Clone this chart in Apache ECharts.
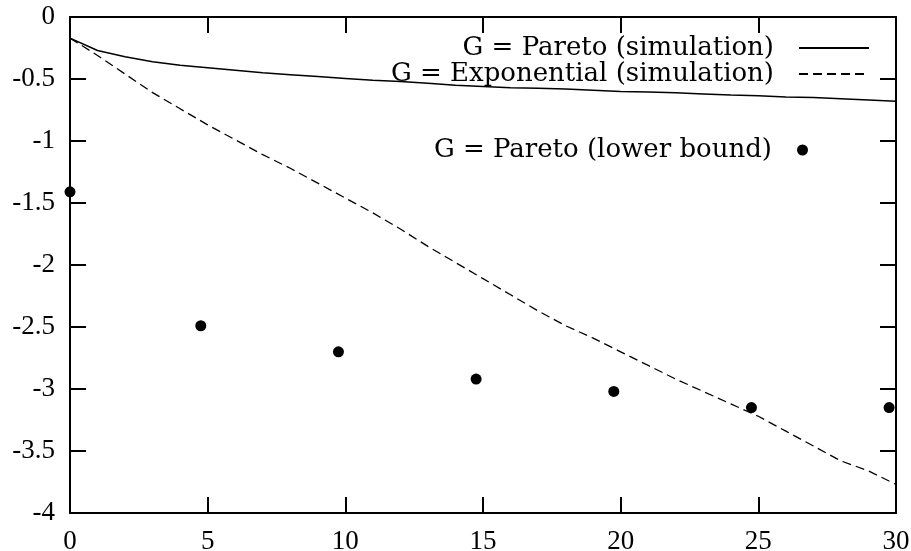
<!DOCTYPE html>
<html>
<head>
<meta charset="utf-8">
<script src="https://cdn.jsdelivr.net/npm/echarts@6/dist/echarts.min.js"></script>
<style>html,body{margin:0;padding:0;background:#fff}#c{width:911px;height:551px}</style>
</head>
<body>
<div id="c"></div>
<script>
// Simulation x positions
var simX = [0,1,2,3,4,5,6,7,8,9,10,11,12,13,14,15,16,17,18,19,20,21,22,23,24,25,26,27,28,29,30];
var paretoSim = [-0.17,-0.27,-0.32,-0.36,-0.39,-0.41,-0.43,-0.45,-0.465,-0.48,-0.495,-0.51,-0.52,-0.535,-0.55,-0.56,-0.57,-0.575,-0.58,-0.59,-0.60,-0.605,-0.61,-0.62,-0.63,-0.635,-0.645,-0.65,-0.66,-0.67,-0.68];
var expSim = [-0.17,-0.31,-0.46,-0.61,-0.74,-0.87,-0.99,-1.11,-1.22,-1.34,-1.46,-1.58,-1.71,-1.85,-1.98,-2.11,-2.24,-2.37,-2.49,-2.59,-2.70,-2.81,-2.92,-3.02,-3.12,-3.22,-3.34,-3.46,-3.58,-3.66,-3.77];
// Lower bound points
var boundX = [0,4.75,9.75,14.75,19.75,24.75,29.75];
var paretoBound = [-1.41,-2.49,-2.70,-2.92,-3.02,-3.15,-3.15];
var names = ['G = Pareto (simulation)','G = Exponential (simulation)','G = Pareto (lower bound)'];

function pairs(xs, ys){ return xs.map(function(x,i){ return [x, ys[i]]; }); }

var TICKFONT = 'Liberation Serif';
var LEGFONT = 'DejaVu Serif';
var chart = echarts.init(document.getElementById('c'), null, {renderer:'canvas'});
var axisLine = {show:true, onZero:false, lineStyle:{color:'#000', width:2}};
var tick = {show:true, inside:true, length:16, lineStyle:{color:'#000', width:2}};
chart.setOption({
  animation:false,
  backgroundColor:'#fff',
  grid:{left:70, right:15, top:17, bottom:38, containLabel:false, outerBoundsMode:'none'},
  xAxis:[
    {type:'value', min:0, max:30, interval:5, position:'bottom',
     axisLine:axisLine, axisTick:tick, splitLine:{show:false},
     axisLabel:{color:'#000', fontFamily:TICKFONT, fontSize:27, margin:15}},
    {type:'value', min:0, max:30, interval:5, position:'top',
     axisLine:axisLine, axisTick:tick, splitLine:{show:false}, axisLabel:{show:false}}
  ],
  yAxis:[
    {type:'value', min:-4, max:0, interval:0.5, position:'left',
     axisLine:axisLine, axisTick:tick, splitLine:{show:false},
     axisLabel:{color:'#000', fontFamily:TICKFONT, fontSize:27, margin:15, padding:[8,0,0,0]}},
    {type:'value', min:-4, max:0, interval:0.5, position:'right',
     axisLine:axisLine, axisTick:tick, splitLine:{show:false}, axisLabel:{show:false}}
  ],
  legend:[
    {data:[names[0], names[1]], orient:'vertical', right:41, top:35, align:'right',
     padding:0, itemGap:0, itemWidth:70, itemHeight:14,
     itemStyle:{color:'rgba(0,0,0,0)', borderWidth:0, opacity:0},
     textStyle:{color:'#000', fontFamily:LEGFONT, fontSize:26, lineHeight:25, padding:[0,20,0,0]}},
    {data:[names[2]], orient:'vertical', right:103, top:137, align:'right',
     padding:0, itemGap:0, itemWidth:11, itemHeight:11,
     textStyle:{color:'#000', fontFamily:LEGFONT, fontSize:26, lineHeight:25, padding:[0,20,0,0]}}
  ],
  series:[
    {name:names[0], type:'line', data:pairs(simX, paretoSim), symbol:'none',
     lineStyle:{color:'#000', width:1.5, type:'solid'}, itemStyle:{color:'#000'}},
    {name:names[1], type:'line', data:pairs(simX, expSim), symbol:'none',
     lineStyle:{color:'#000', width:1.3, type:[9,5]}, itemStyle:{color:'#000'}},
    {name:names[2], type:'scatter', data:pairs(boundX, paretoBound), symbol:'circle',
     symbolSize:11, itemStyle:{color:'#000', opacity:1}}
  ]
});
</script>
</body>
</html>
